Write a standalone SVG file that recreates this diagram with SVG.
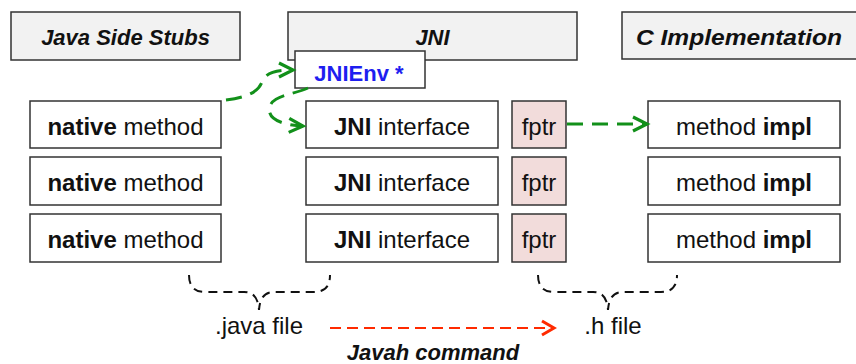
<svg xmlns="http://www.w3.org/2000/svg" width="856" height="364" viewBox="0 0 856 364">
  <style>
    .hdr { fill: #f2f2f2; stroke: #333; stroke-width: 1.5; }
    .box { fill: #ffffff; stroke: #333; stroke-width: 1.5; }
    .ptr { fill: #f2dcdb; stroke: #333; stroke-width: 1.5; }
    text { font-family: "Liberation Sans", Arial, sans-serif; fill: #111; }
    .ht { font-size: 22px; font-weight: bold; font-style: italic; text-anchor: middle; }
    .bt { font-size: 24px; text-anchor: middle; }
    .b { font-weight: bold; }
    .env { font-size: 22px; font-weight: bold; fill: #1e1ef0; text-anchor: middle; }
    .green { fill: none; stroke: #12901a; stroke-width: 3; stroke-dasharray: 16 9; stroke-linecap: butt; }
    .red { fill: none; stroke: #ff2a00; stroke-width: 2.2; stroke-dasharray: 11 6; }
    .brace { fill: none; stroke: #111; stroke-width: 2; stroke-dasharray: 9 6; }
  </style>
  <defs>
    <marker id="ah-green" markerUnits="userSpaceOnUse" markerWidth="20" markerHeight="20" refX="15" refY="8" orient="auto" overflow="visible">
      <path d="M1,1 L15,8 L1,15" fill="none" stroke="#12901a" stroke-width="3.2" stroke-dasharray="none" stroke-linejoin="miter"/>
    </marker>
    <marker id="ah-red" markerUnits="userSpaceOnUse" markerWidth="20" markerHeight="20" refX="14" refY="8" orient="auto" overflow="visible">
      <path d="M2,1 L14,8 L2,15" fill="none" stroke="#ff2a00" stroke-width="3" stroke-dasharray="none"/>
    </marker>
  </defs>

  <!-- column headers -->
  <g id="hdr-java"><rect class="hdr" x="11" y="12" width="229" height="48"/><text class="ht" x="125.5" y="45">Java Side Stubs</text></g>
  <g id="hdr-jni"><rect class="hdr" x="288" y="12" width="289" height="48"/><text class="ht" x="432.5" y="45">JNI</text></g>
  <g id="hdr-c"><rect class="hdr" x="622" y="12" width="236" height="47"/><text class="ht" x="739" y="45" textLength="206" lengthAdjust="spacingAndGlyphs">C Implementation</text></g>

  <!-- JNIEnv pointer -->
  <g id="jnienv"><rect class="box" x="295" y="51" width="130" height="37"/><text class="env" x="359" y="81">JNIEnv *</text></g>

  <!-- Java native methods -->
  <g id="native-1"><rect class="box" x="30" y="101" width="191" height="47"/><text class="bt" x="125.5" y="135"><tspan class="b">native</tspan> method</text></g>
  <g id="native-2"><rect class="box" x="30" y="157" width="191" height="48"/><text class="bt" x="125.5" y="191"><tspan class="b">native</tspan> method</text></g>
  <g id="native-3"><rect class="box" x="30" y="214" width="191" height="48"/><text class="bt" x="125.5" y="248"><tspan class="b">native</tspan> method</text></g>

  <!-- JNI interface entries -->
  <g id="jni-1"><rect class="box" x="306" y="101" width="192" height="47"/><text class="bt" x="402" y="135"><tspan class="b">JNI</tspan> interface</text></g>
  <g id="jni-2"><rect class="box" x="306" y="157" width="192" height="48"/><text class="bt" x="402" y="191"><tspan class="b">JNI</tspan> interface</text></g>
  <g id="jni-3"><rect class="box" x="306" y="214" width="192" height="48"/><text class="bt" x="402" y="248"><tspan class="b">JNI</tspan> interface</text></g>

  <!-- function pointers -->
  <g id="fptr-1"><rect class="ptr" x="512" y="101" width="54" height="47"/><text class="bt" x="539" y="135">fptr</text></g>
  <g id="fptr-2"><rect class="ptr" x="512" y="157" width="54" height="48"/><text class="bt" x="539" y="191">fptr</text></g>
  <g id="fptr-3"><rect class="ptr" x="512" y="214" width="54" height="48"/><text class="bt" x="539" y="248">fptr</text></g>

  <!-- C implementations -->
  <g id="impl-1"><rect class="box" x="648" y="101" width="192" height="47"/><text class="bt" x="744" y="135">method <tspan class="b">impl</tspan></text></g>
  <g id="impl-2"><rect class="box" x="648" y="157" width="192" height="48"/><text class="bt" x="744" y="191">method <tspan class="b">impl</tspan></text></g>
  <g id="impl-3"><rect class="box" x="648" y="214" width="192" height="48"/><text class="bt" x="744" y="248">method <tspan class="b">impl</tspan></text></g>

  <!-- file labels -->
  <g id="java-file"><text class="bt" x="259" y="334">.java file</text></g>
  <g id="h-file"><text class="bt" x="613" y="334">.h file</text></g>
  <g id="javah"><text class="ht" x="433" y="360">Javah command</text></g>

  <!-- connectors -->
  <g id="connectors">
    <path class="green" d="M226,100 C248,97 258,92 262,82 C266,73 274,70 293,70" marker-end="url(#ah-green)"/>
    <path class="green" d="M308,88 C292,95 274,95 270,106 C266,118 280,125 303,126" marker-end="url(#ah-green)"/>
    <path class="green" d="M567,124 L647,124" marker-end="url(#ah-green)"/>
    <path class="red" d="M330,328 L554,328" marker-end="url(#ah-red)"/>
    <path class="brace" d="M189,275 C189,286 194,292 205,292 L244,292 C252,292 258,296 259,310 C260,296 266,292 274,292 L314,292 C325,292 330,286 330,275"/>
    <path class="brace" d="M538,275 C538,286 543,292 554,292 L593,292 C601,292 607,296 608,310 C609,296 615,292 623,292 L661,292 C672,292 677,286 677,275"/>
  </g>
</svg>
